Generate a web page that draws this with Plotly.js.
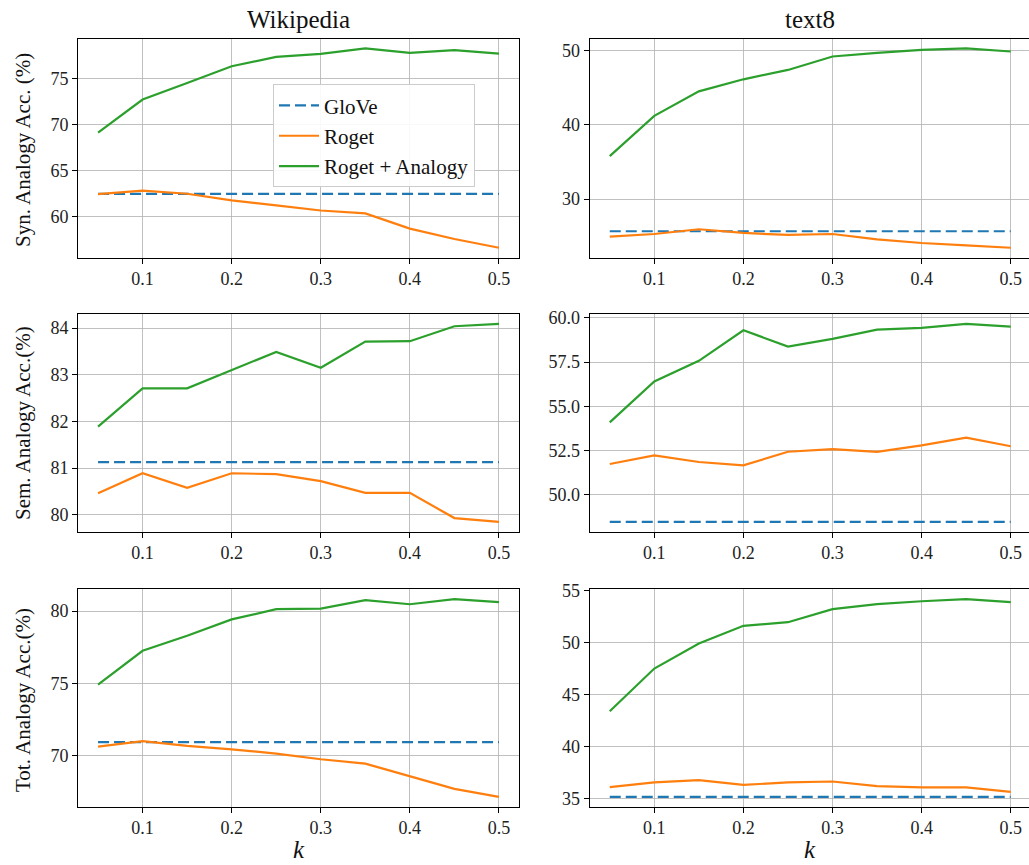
<!DOCTYPE html>
<html>
<head>
<meta charset="utf-8">
<script src="https://cdn.plot.ly/plotly-3.0.1.min.js"></script>
<style>html,body{margin:0;padding:0;background:#fff;}#chart{width:1029px;height:865px;}</style>
</head>
<body>
<div id="chart"></div>
<script>
// ---- data ----
const kValues = [0.05, 0.10, 0.15, 0.20, 0.25, 0.30, 0.35, 0.40, 0.45, 0.50];

// Wikipedia
const wikiSynGlove   = [62.5, 62.5, 62.5, 62.5, 62.5, 62.5, 62.5, 62.5, 62.5, 62.5];
const wikiSynRoget   = [62.48, 62.84, 62.51, 61.79, 61.24, 60.69, 60.37, 58.73, 57.60, 56.65];
const wikiSynRogetAn = [69.14, 72.74, 74.53, 76.35, 77.37, 77.69, 78.28, 77.80, 78.09, 77.73];

const wikiSemGlove   = [81.13, 81.13, 81.13, 81.13, 81.13, 81.13, 81.13, 81.13, 81.13, 81.13];
const wikiSemRoget   = [80.46, 80.89, 80.58, 80.89, 80.87, 80.72, 80.47, 80.47, 79.93, 79.85];
const wikiSemRogetAn = [81.89, 82.71, 82.71, 83.10, 83.49, 83.15, 83.71, 83.72, 84.04, 84.09];

const wikiTotGlove   = [70.94, 70.94, 70.94, 70.94, 70.94, 70.94, 70.94, 70.94, 70.94, 70.94];
const wikiTotRoget   = [70.62, 71.01, 70.67, 70.44, 70.14, 69.75, 69.45, 68.55, 67.70, 67.15];
const wikiTotRogetAn = [74.92, 77.26, 78.30, 79.43, 80.14, 80.18, 80.76, 80.48, 80.83, 80.62];

// text8
const t8SynGlove   = [25.67, 25.67, 25.67, 25.67, 25.67, 25.67, 25.67, 25.67, 25.67, 25.67];
const t8SynRoget   = [24.94, 25.30, 25.94, 25.44, 25.17, 25.30, 24.58, 24.09, 23.77, 23.45];
const t8SynRogetAn = [35.78, 41.20, 44.50, 46.12, 47.38, 49.19, 49.68, 50.09, 50.27, 49.86];

const t8SemGlove   = [48.47, 48.47, 48.47, 48.47, 48.47, 48.47, 48.47, 48.47, 48.47, 48.47];
const t8SemRoget   = [51.74, 52.23, 51.85, 51.66, 52.43, 52.58, 52.42, 52.79, 53.23, 52.74];
const t8SemRogetAn = [54.09, 56.40, 57.57, 59.30, 58.38, 58.81, 59.34, 59.43, 59.66, 59.51];

const t8TotGlove   = [35.16, 35.16, 35.16, 35.16, 35.16, 35.16, 35.16, 35.16, 35.16, 35.16];
const t8TotRoget   = [36.09, 36.54, 36.76, 36.31, 36.54, 36.63, 36.18, 36.06, 36.06, 35.64];
const t8TotRogetAn = [43.38, 47.48, 49.88, 51.58, 51.93, 53.18, 53.66, 53.94, 54.14, 53.85];

const seriesNames = ["GloVe", "Roget", "Roget + Analogy"];
const columnTitles = ["Wikipedia", "text8"];
const rowLabels = ["Syn. Analogy Acc. (%)", "Sem. Analogy Acc.(%)", "Tot. Analogy Acc.(%)"];
const xLabel = "k";

// ---- styling / layout ----
const W = 1029, H = 865;
const colors = ["#1f77b4", "#ff7f0e", "#2ca02c"];
const FONT = "Liberation Serif";

const panels = [
  {glove: wikiSynGlove, roget: wikiSynRoget, ra: wikiSynRogetAn, col: 0, row: 0, dtick: 5, fmt: "d"},
  {glove: t8SynGlove,   roget: t8SynRoget,   ra: t8SynRogetAn,   col: 1, row: 0, dtick: 10, fmt: "d"},
  {glove: wikiSemGlove, roget: wikiSemRoget, ra: wikiSemRogetAn, col: 0, row: 1, dtick: 1, fmt: "d"},
  {glove: t8SemGlove,   roget: t8SemRoget,   ra: t8SemRogetAn,   col: 1, row: 1, dtick: 2.5, fmt: ".1f"},
  {glove: wikiTotGlove, roget: wikiTotRoget, ra: wikiTotRogetAn, col: 0, row: 2, dtick: 5, fmt: "d"},
  {glove: t8TotGlove,   roget: t8TotRoget,   ra: t8TotRogetAn,   col: 1, row: 2, dtick: 5, fmt: "d"}
];

// pixel boxes of plot areas
const colPx = [[78, 519], [589.7, 1029]];
const rowPx = [[38.5, 257.7], [314, 531.7], [589.3, 806.7]];
const xRanges = [[0.0275, 0.5225], [0.0275, 0.5205]];

const traces = [];
const layout = {
  width: W, height: H,
  margin: {l: 0, r: 0, t: 0, b: 0},
  paper_bgcolor: "#fff", plot_bgcolor: "#fff",
  font: {family: FONT, size: 18, color: "#222"},
  showlegend: true,
  legend: {
    x: 273 / W, y: 1 - 84.3 / H, xanchor: "left", yanchor: "top",
    bgcolor: "rgba(255,255,255,0.9)", bordercolor: "#cccccc", borderwidth: 1,
    font: {family: FONT, size: 21, color: "#111"},
    tracegroupgap: 0, itemwidth: 40
  },
  annotations: []
};

panels.forEach((p, i) => {
  const n = i + 1;
  const xa = "x" + (n === 1 ? "" : n), ya = "y" + (n === 1 ? "" : n);
  const vals = [p.glove, p.roget, p.ra];
  vals.forEach((v, s) => {
    traces.push({
      type: "scatter", mode: "lines", x: kValues, y: v,
      xaxis: xa, yaxis: ya, name: seriesNames[s],
      showlegend: i === 0,
      line: {color: colors[s], width: 2.2, dash: s === 0 ? "11px,5px" : "solid"},
      hoverinfo: "skip"
    });
  });
  const allV = [].concat(p.glove, p.roget, p.ra);
  const mn = Math.min(...allV), mx = Math.max(...allV), pad = (mx - mn) * 0.05;
  const cp = colPx[p.col], rp = rowPx[p.row];
  const common = {
    showline: true, mirror: true, linecolor: "#000", linewidth: 1,
    showgrid: true, gridcolor: "#b0b0b0", gridwidth: 0.8, zeroline: false,
    ticks: "outside", ticklen: 5, tickcolor: "#000", tickwidth: 1,
    tickfont: {family: FONT, size: 18, color: "#222"}
  };
  layout["xaxis" + (n === 1 ? "" : n)] = Object.assign({}, common, {
    domain: [cp[0] / W, Math.min(cp[1] / W, 1)],
    range: xRanges[p.col], dtick: 0.1, tick0: 0, tickformat: ".1f",
    anchor: ya, showticklabels: true
  });
  layout["yaxis" + (n === 1 ? "" : n)] = Object.assign({}, common, {
    domain: [1 - rp[1] / H, 1 - rp[0] / H],
    range: [mn - pad, mx + pad], dtick: p.dtick, tick0: 0, tickformat: p.fmt,
    anchor: xa
  });
});

// column titles and x labels
const colCenters = [298.5, 810];
columnTitles.forEach((t, c) => {
  layout.annotations.push({text: t, xref: "paper", yref: "paper", x: colCenters[c] / W, y: 1 - 19 / H,
    xanchor: "center", yanchor: "middle", showarrow: false, font: {family: FONT, size: 25, color: "#111"}});
  layout.annotations.push({text: "<i>" + xLabel + "</i>", xref: "paper", yref: "paper", x: colCenters[c] / W, y: 1 - 849 / H,
    xanchor: "center", yanchor: "middle", showarrow: false, font: {family: FONT, size: 25, color: "#111"}});
});
// row labels
const rowCenters = [150, 423, 700];
rowLabels.forEach((t, r) => {
  layout.annotations.push({text: t, xref: "paper", yref: "paper", x: 23 / W, y: 1 - rowCenters[r] / H,
    xanchor: "center", yanchor: "middle", textangle: -90, showarrow: false,
    font: {family: FONT, size: 21, color: "#111"}});
});

Plotly.newPlot("chart", traces, layout, {displayModeBar: false, staticPlot: true});
</script>
</body>
</html>
